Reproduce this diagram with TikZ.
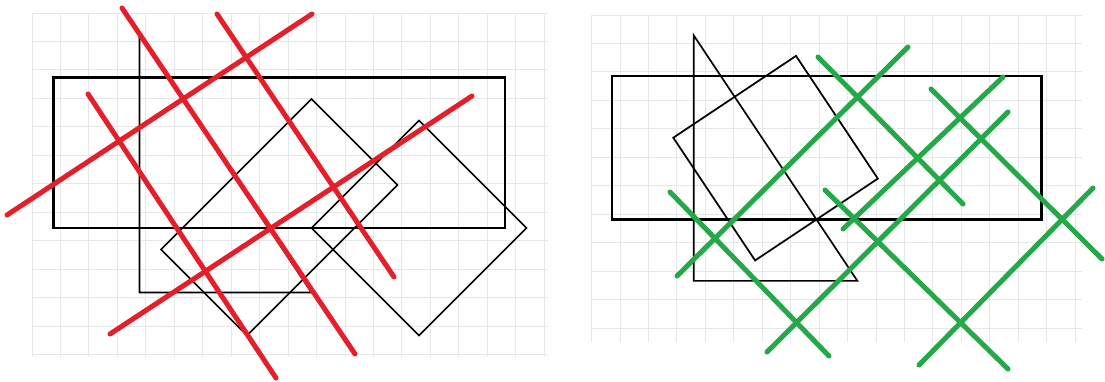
\documentclass[tikz,border=0pt]{standalone}
\definecolor{gridc}{RGB}{229,232,235}
\definecolor{redc}{RGB}{230,30,42}
\definecolor{greenc}{RGB}{36,168,72}
\tikzset{
  gridline/.style={draw=gridc,line width=0.9pt},
  outline/.style={draw=black,line width=2.2pt,line join=miter},
  shapeline/.style={draw=black,line width=1.7pt,line join=miter},
  redstroke/.style={draw=redc,line width=5pt,line cap=round},
  greenstroke/.style={draw=greenc,line width=5pt,line cap=round}
}
\begin{document}
\begin{tikzpicture}[x=1pt,y=-1pt]
\useasboundingbox (0,0) rectangle (1105,381);
\fill[white] (0,0) rectangle (1105,381);
% ---------- left panel ----------
\begin{scope}[shift={(32,13)},x=21.5pt,y=-21.5pt]
  \draw[gridline] (0,0) grid (24,16);
  \draw[outline] (1,3) rectangle (22,10);
  \draw[shapeline] (5,1) -- (5,13) -- (13,13) -- cycle;
  \draw[shapeline] (13,4) -- (17,8) -- (10,15) -- (6,11) -- cycle;
  \draw[shapeline] (18,5) -- (23,10) -- (18,15) -- (13,10) -- cycle;
\end{scope}
\coordinate (r1a) at (122,8);   \coordinate (r1b) at (355,354);
\coordinate (r2a) at (217,14);  \coordinate (r2b) at (394,277);
\coordinate (r3a) at (88,94);   \coordinate (r3b) at (276,378);
\coordinate (r4a) at (7,215);   \coordinate (r4b) at (312,14);
\coordinate (r5a) at (110,334); \coordinate (r5b) at (472,96);
\draw[redstroke] (r1a) -- (r1b);
\draw[redstroke] (r2a) -- (r2b);
\draw[redstroke] (r3a) -- (r3b);
\draw[redstroke] (r4a) -- (r4b);
\draw[redstroke] (r5a) -- (r5b);
% ---------- right panel ----------
\begin{scope}[shift={(591.5,15)},x=20.45pt,y=-20.45pt]
  \draw[gridline] (0,0) grid (24,16);
  \draw[outline] (1,3) rectangle (22,10);
  \draw[shapeline] (5,1) -- (5,13) -- (13,13) -- cycle;
  \draw[shapeline] (10,2) -- (14,8) -- (8,12) -- (4,6) -- cycle;
\end{scope}
\coordinate (g1a) at (908,47);   \coordinate (g1b) at (677,276);
\coordinate (g2a) at (818,57);   \coordinate (g2b) at (963,204);
\coordinate (g3a) at (1003,77);  \coordinate (g3b) at (843,229);
\coordinate (g4a) at (1008,112); \coordinate (g4b) at (767,352);
\coordinate (g5a) at (931,89);   \coordinate (g5b) at (1102,259);
\coordinate (g6a) at (670,192);  \coordinate (g6b) at (829,356);
\coordinate (g7a) at (825,190);  \coordinate (g7b) at (1008,369);
\coordinate (g8a) at (1093,188); \coordinate (g8b) at (919,365);
\draw[greenstroke] (g1a) -- (g1b);
\draw[greenstroke] (g2a) -- (g2b);
\draw[greenstroke] (g3a) -- (g3b);
\draw[greenstroke] (g4a) -- (g4b);
\draw[greenstroke] (g5a) -- (g5b);
\draw[greenstroke] (g6a) -- (g6b);
\draw[greenstroke] (g7a) -- (g7b);
\draw[greenstroke] (g8a) -- (g8b);
\end{tikzpicture}
\end{document}
